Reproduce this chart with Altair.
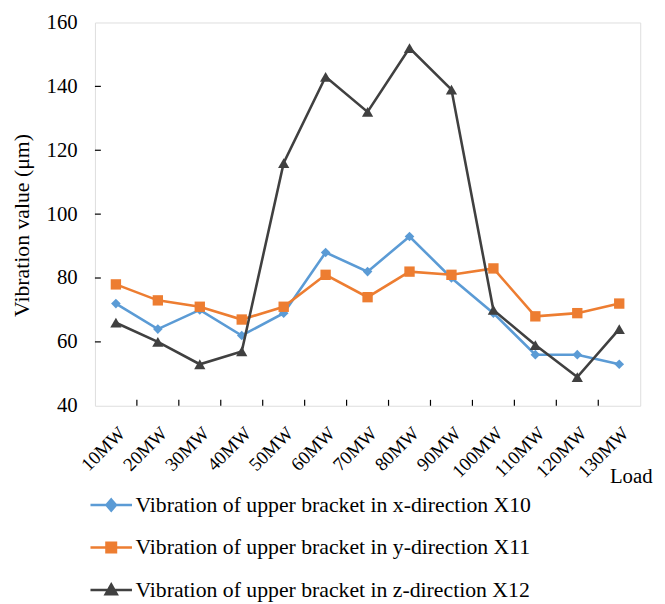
import altair as alt
import pandas as pd

loads = ["10MW", "20MW", "30MW", "40MW", "50MW", "60MW", "70MW",
         "80MW", "90MW", "100MW", "110MW", "120MW", "130MW"]
series_names = [
    "Vibration of upper bracket in x-direction X10",
    "Vibration of upper bracket in y-direction X11",
    "Vibration of upper bracket in z-direction X12",
]
x10 = [72, 64, 70, 62, 69, 88, 82, 93, 80, 69, 56, 56, 53]
x11 = [78, 73, 71, 67, 71, 81, 74, 82, 81, 83, 68, 69, 72]
x12 = [66, 60, 53, 57, 116, 143, 132, 152, 139, 70, 59, 49, 64]
y_ticks = [40, 60, 80, 100, 120, 140, 160]
colors = ["#5B9BD5", "#ED7D31", "#404040"]
shapes = ["diamond", "square", "triangle-up"]
sizes = [95, 110, 130]

all_vals = [x10, x11, x12]
rows = []
for name, vals in zip(series_names, all_vals):
    for l, v in zip(loads, vals):
        rows.append({"load": l, "series": name, "value": v})
df = pd.DataFrame(rows)

FONT = "Liberation Serif"

xscale = alt.Scale(domain=loads, paddingInner=0, paddingOuter=0)
yscale = alt.Scale(domain=[40, 160], nice=False, zero=False)

leg_paths = [
    "M-1,0L1,0M0,-0.27L0.23,0L0,0.27L-0.23,0Z",
    "M-1,0L1,0M-0.23,-0.23L0.23,-0.23L0.23,0.23L-0.23,0.23Z",
    "M-1,0L1,0M0,-0.27L0.27,0.21L-0.27,0.21Z",
]

legend = alt.Legend(
    title=None,
    orient="none",
    legendX=-6,
    legendY=466,
    labelFont=FONT,
    labelFontSize=22,
    labelColor="black",
    labelOffset=2,
    labelLimit=0,
    symbolSize=1764,
    symbolOpacity=1,
    symbolStrokeWidth=2.5,
    rowPadding=9,
)

x_axis = alt.Axis(
    title="Load", labelAngle=-45, labelFont=FONT, labelFontSize=19,
    labelColor="black", labelPadding=18, labelBaseline="top", labelAlign="right",
    ticks=False, domain=False,
    titleFont=FONT, titleFontSize=21, titleFontWeight="normal", titleColor="black",
    titleAnchor="end", titleAlign="right", titleBaseline="bottom",
    titleX=564, titleY=82,
)
y_axis = alt.Axis(
    title="Vibration  value (μm)", values=y_ticks, labelFont=FONT, labelFontSize=21,
    labelColor="black", labelPadding=18, ticks=False, domain=False, grid=False,
    titleFont=FONT, titleFontSize=22, titleFontWeight="normal", titleColor="black",
    titlePadding=13, titleY=205,
)

layers = []

ytick_df = pd.DataFrame({"v": y_ticks[1:-1]})
layers.append(alt.Chart(ytick_df).mark_rule(color="black", strokeWidth=1.2).encode(
    y=alt.Y("v:Q", scale=yscale, axis=y_axis),
    x=alt.value(0), x2=alt.value(6),
))
xtick_df = pd.DataFrame({"load": loads[1:]})
layers.append(alt.Chart(xtick_df).mark_rule(color="black", strokeWidth=1.2).encode(
    x=alt.X("load:N", scale=xscale, bandPosition=0, axis=x_axis),
    y=alt.value(388), y2=alt.value(382),
))

for name, col, shp, sz in zip(series_names, colors, shapes, sizes):
    sub = df[df["series"] == name]
    layers.append(alt.Chart(sub).mark_line(color=col, strokeWidth=2.6).encode(
        x=alt.X("load:N", scale=xscale),
        y=alt.Y("value:Q", scale=yscale),
    ))
    layers.append(alt.Chart(sub).mark_point(
        color=col, filled=True, opacity=1, shape=shp, size=sz
    ).encode(
        x=alt.X("load:N", scale=xscale),
        y=alt.Y("value:Q", scale=yscale),
    ))

# legend carrier (invisible marks, visible legend)
layers.append(alt.Chart(df).mark_point(opacity=0).encode(
    x=alt.X("load:N", scale=xscale),
    y=alt.Y("value:Q", scale=yscale),
    fill=alt.Fill("series:N", scale=alt.Scale(domain=series_names, range=colors), legend=legend),
    stroke=alt.Stroke("series:N", scale=alt.Scale(domain=series_names, range=colors), legend=legend),
    shape=alt.Shape("series:N", scale=alt.Scale(domain=series_names, range=leg_paths), legend=legend),
))

chart = alt.layer(*layers).properties(
    width=552, height=388,
    autosize=alt.AutoSizeParams(type="none"),
    padding={"left": 88, "top": 11, "right": 17, "bottom": 197},
).configure_view(stroke="black", strokeWidth=1.6).configure(
    background="white", font=FONT
)

chart.save("out.html", embed_options={"renderer": "svg", "actions": False})
